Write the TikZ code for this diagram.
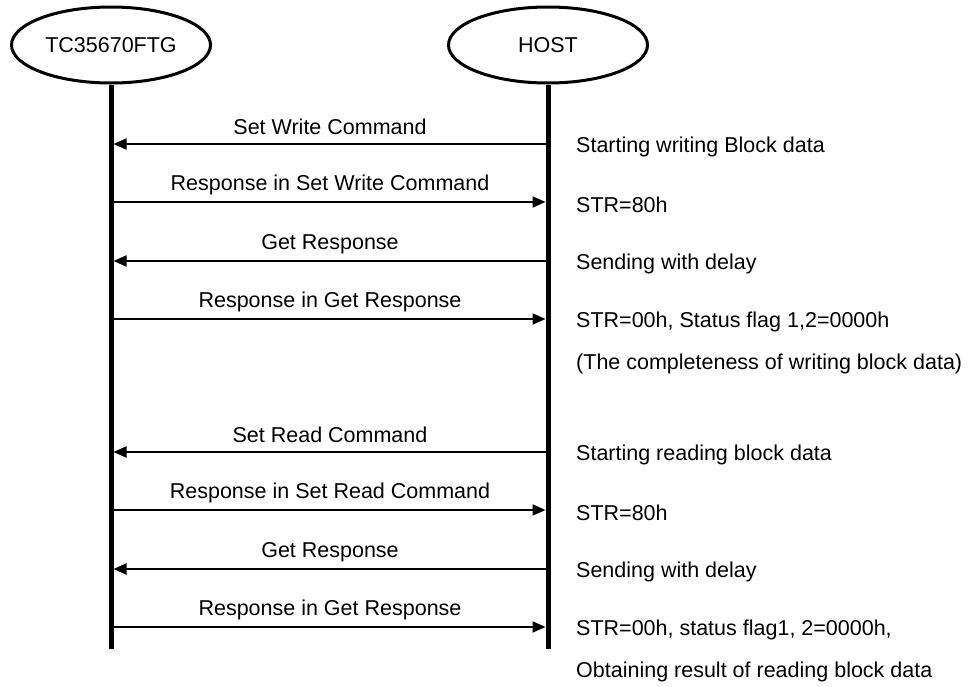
\documentclass[tikz,border=0pt]{standalone}
\usepackage{fontspec}
\setmainfont{Liberation Sans}
\usetikzlibrary{shapes.geometric,arrows.meta}
\begin{document}
\begin{tikzpicture}[x=1pt,y=-1pt,
  every node/.style={font=\fontsize{21.5}{26}\selectfont},
  actor/.style={draw,ellipse,line width=3pt,minimum width=199pt,minimum height=76pt,inner sep=0pt},
  life/.style={line width=5pt},
  msg/.style={line width=2pt,-{Triangle[length=13pt,width=11pt]},shorten >=2.5pt,shorten <=2.5pt},
  lbl/.style={inner sep=0pt},
  note/.style={anchor=west,inner sep=0pt}]
\useasboundingbox (0,0) rectangle (970,686);
\node[actor] (tc) at (111,45) {TC35670FTG};
\node[actor] (host) at (548,45) {HOST};
\coordinate (tcend) at (111,649);
\coordinate (hostend) at (548,649);
\draw[life] (tc.south) -- (tcend);
\draw[life] (host.south) -- (hostend);
% write block
\coordinate (l1) at (111,144); \coordinate (r1) at (548,144);
\coordinate (l2) at (111,202); \coordinate (r2) at (548,202);
\coordinate (l3) at (111,261); \coordinate (r3) at (548,261);
\coordinate (l4) at (111,319); \coordinate (r4) at (548,319);
\draw[msg] (r1) -- (l1);
\draw[msg] (l2) -- (r2);
\draw[msg] (r3) -- (l3);
\draw[msg] (l4) -- (r4);
\node[lbl] (m1) at (330,127) {Set Write Command};
\node[lbl] (m2) at (330,185) {Response in Set Write Command};
\node[lbl] (m3) at (330,244) {Get Response};
\node[lbl] (m4) at (330,302) {Response in Get Response};
\node[note] (n1) at (576,147) {Starting writing Block data};
\node[note] (n2) at (576,205) {STR=80h};
\node[note] (n3) at (576,264) {Sending with delay};
\node[note] (n4) at (576,322) {STR=00h, Status flag 1,2=0000h};
\node[note] (n4b) at (576,364) {(The completeness of writing block data)};
% read block
\coordinate (l5) at (111,452); \coordinate (r5) at (548,452);
\coordinate (l6) at (111,510); \coordinate (r6) at (548,510);
\coordinate (l7) at (111,569); \coordinate (r7) at (548,569);
\coordinate (l8) at (111,627); \coordinate (r8) at (548,627);
\draw[msg] (r5) -- (l5);
\draw[msg] (l6) -- (r6);
\draw[msg] (r7) -- (l7);
\draw[msg] (l8) -- (r8);
\node[lbl] (m5) at (330,435) {Set Read Command};
\node[lbl] (m6) at (330,493) {Response in Set Read Command};
\node[lbl] (m7) at (330,552) {Get Response};
\node[lbl] (m8) at (330,610) {Response in Get Response};
\node[note] (n5) at (576,455) {Starting reading block data};
\node[note] (n6) at (576,513) {STR=80h};
\node[note] (n7) at (576,572) {Sending with delay};
\node[note] (n8) at (576,630) {STR=00h, status flag1, 2=0000h,};
\node[note] (n8b) at (576,672) {Obtaining result of reading block data};
\end{tikzpicture}
\end{document}
